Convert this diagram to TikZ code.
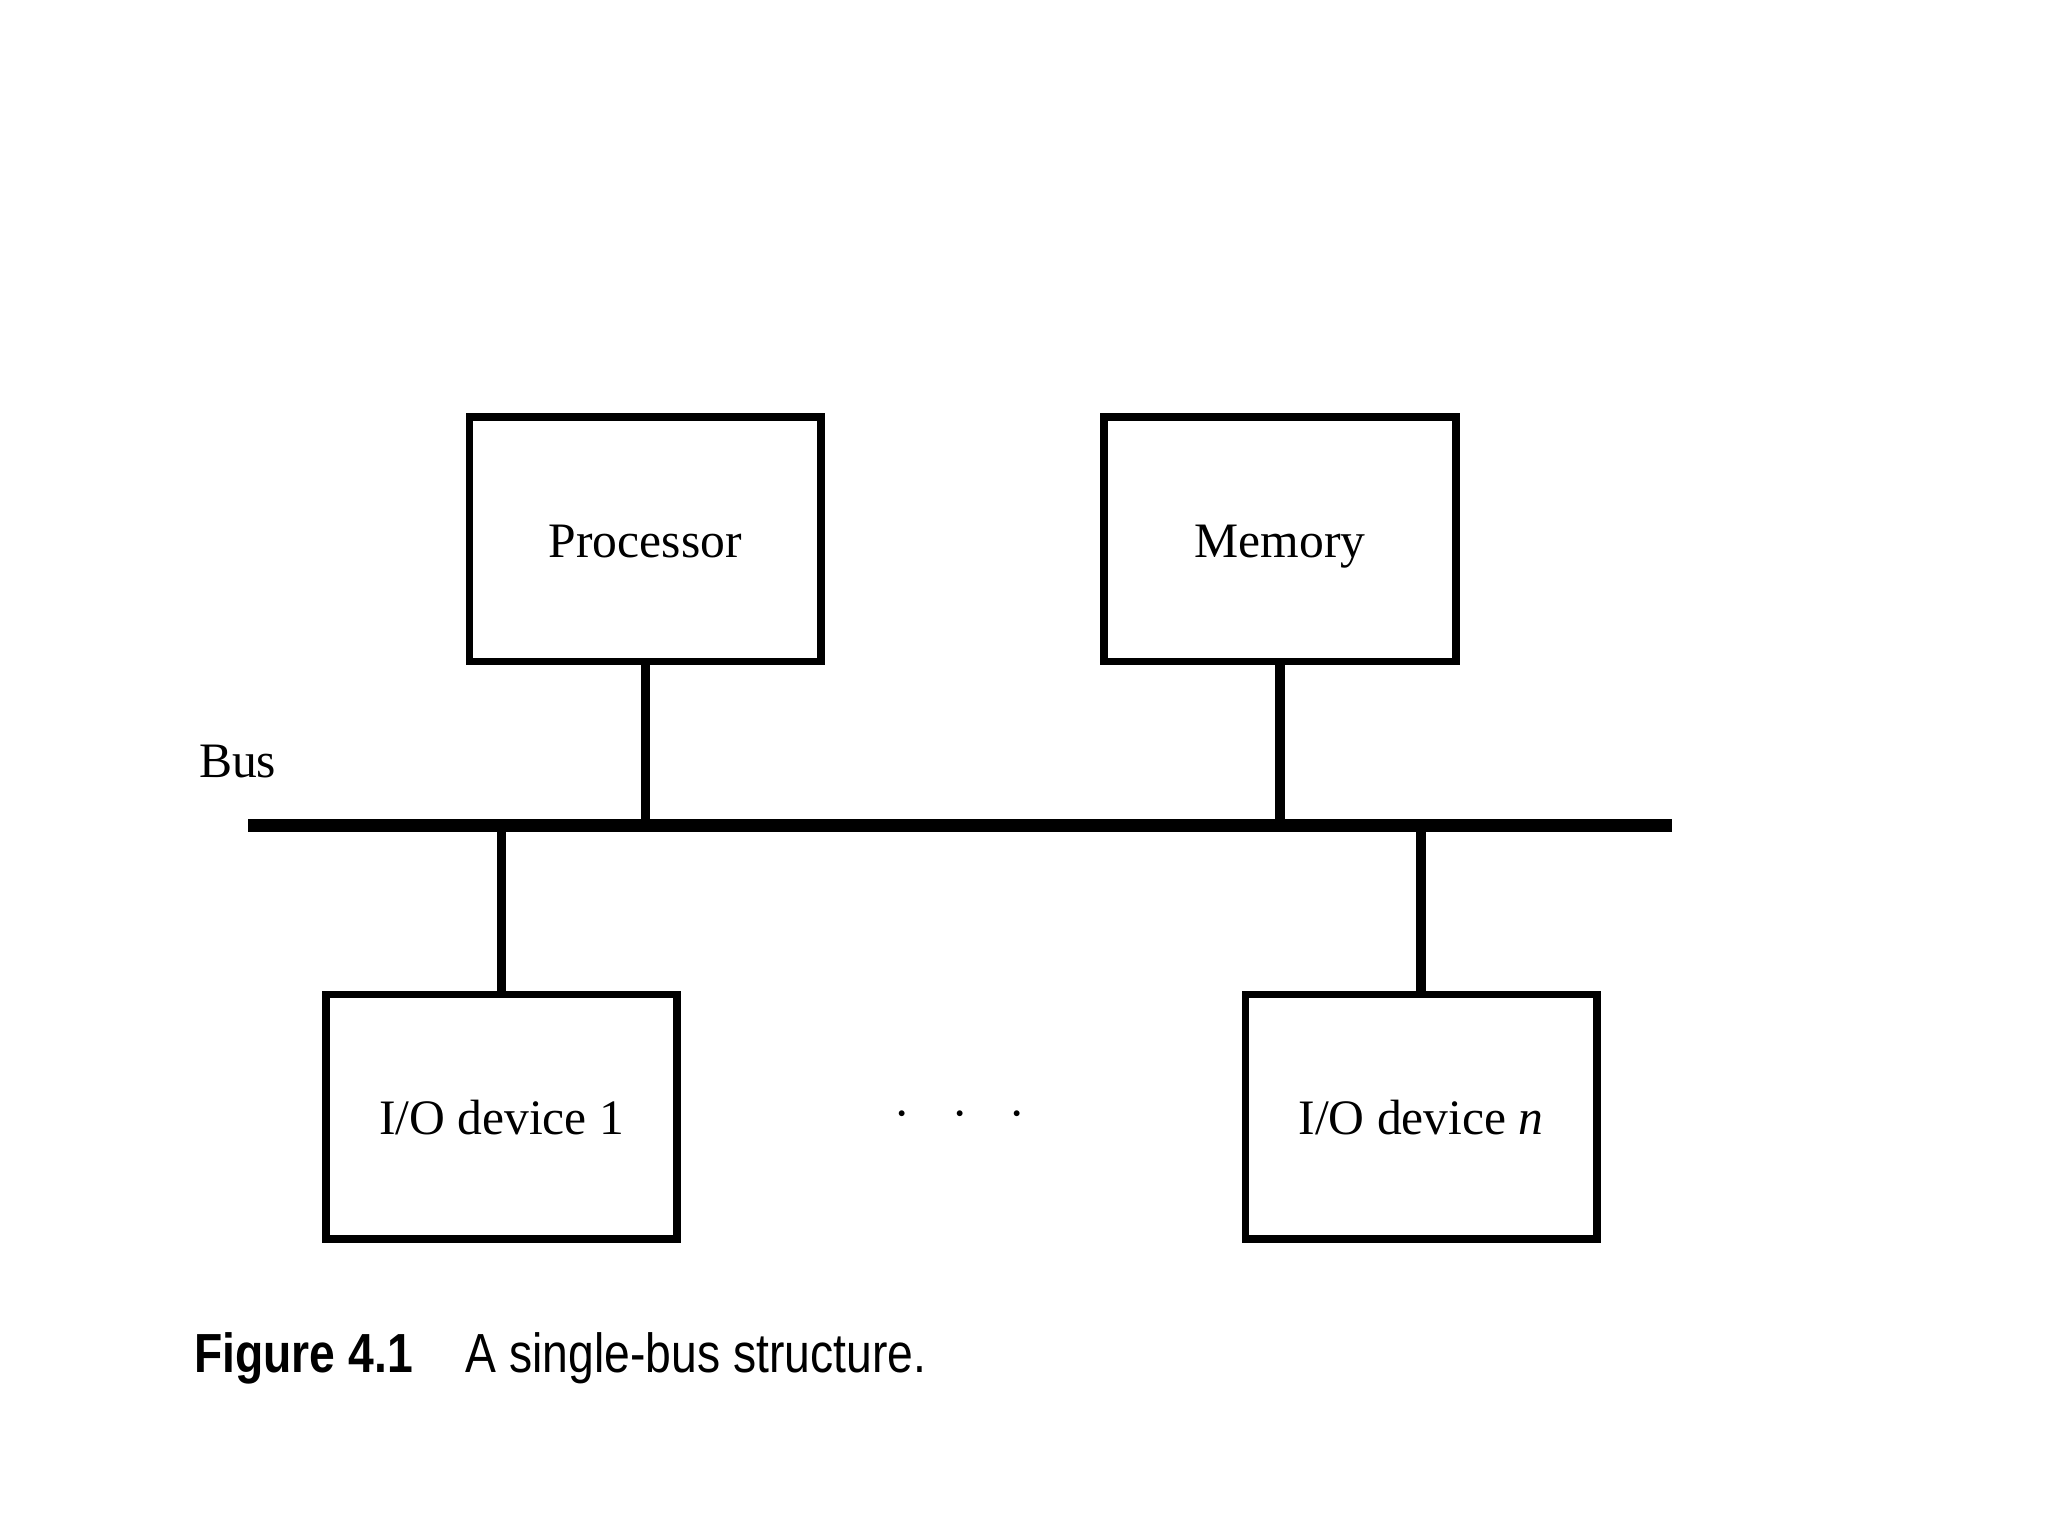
\documentclass[tikz,border=0pt]{standalone}
\usepackage{fontspec}
\usepackage{graphicx}
\setmainfont{Liberation Serif}
\newfontfamily\captionfont{Liberation Sans}

\tikzset{
  unit/.style={draw, line width=1.7pt, minimum width=2.69cm, minimum height=1.87cm,
    text height=0.8em, text depth=0.02em, font=\fontsize{10.8}{13}\selectfont},
  busline/.style={line width=2.8pt},
  tap/.style={line width=2pt},
}

\begin{document}
\begin{tikzpicture}
        \useasboundingbox (0, 0) rectangle (15.68, 11.76);

        % Processor and Memory
        \node[unit] (proc) at (4.94, 7.63) {Processor};
        \node[unit] (mem) at (9.80, 7.63) {Memory};

        % Bus
        \coordinate (busL) at (1.90, 5.44);
        \coordinate (busR) at (12.80, 5.44);
        \draw[busline] (busL) -- (busR);
        \node[font=\fontsize{10.8}{13}\selectfont] (buslabel) at (1.82, 5.93) {Bus};

        % I/O devices
        \node[unit] (io1) at (3.84, 3.21) {I/O device 1};
        \node[unit] (ion) at (10.88, 3.21) {I/O device \textit{n}};
        \node[font=\fontsize{13}{15}\selectfont] (dots) at (7.35, 3.22)
            {$\cdot\hspace{0.5em}\cdot\hspace{0.5em}\cdot$};

        % Taps onto the bus
        \draw[tap] (proc.south) -- (proc.south |- busL);
        \draw[tap] (mem.south) -- (mem.south |- busL);
        \draw[tap] (io1.north) -- (io1.north |- busL);
        \draw[tap] (ion.north) -- (ion.north |- busL);

        % Caption
        \node[anchor=base west, inner sep=0] (fignum) at (1.48, 1.25)
            {\captionfont\fontsize{12}{14}\selectfont\bfseries\scalebox{0.84}[1]{Figure 4.1}};
        \node[anchor=base west, inner sep=0] (figtext) at (3.56, 1.25)
            {\captionfont\fontsize{12}{14}\selectfont\scalebox{0.84}[1]{A single-bus structure.}};
\end{tikzpicture}
\end{document}
